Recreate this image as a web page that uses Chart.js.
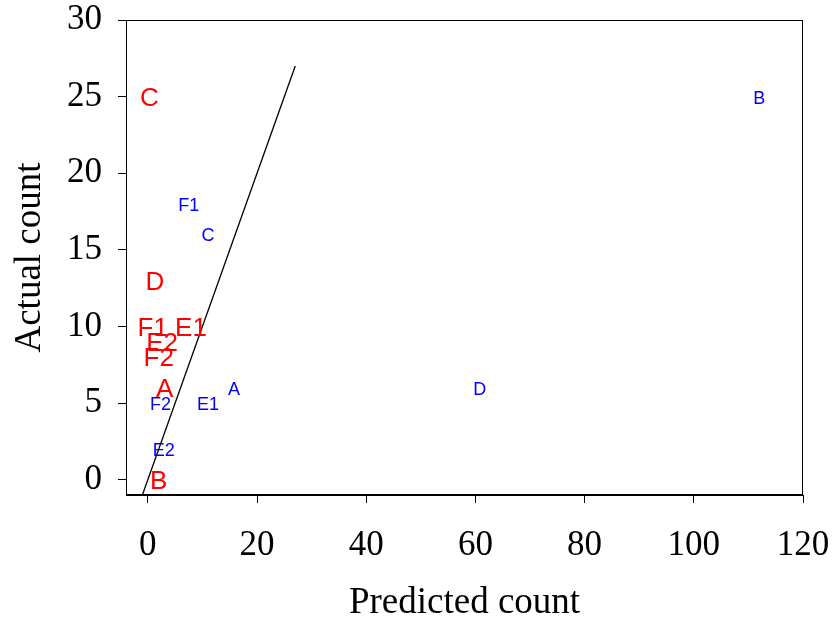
<!DOCTYPE html>
<html>
<head>
<meta charset="utf-8">
<script src="https://cdn.jsdelivr.net/npm/chart.js@4/dist/chart.umd.min.js"></script>
<style>
  html, body { margin: 0; padding: 0; background: #fff; }
  #wrap { width: 833px; height: 622px; }
</style>
</head>
<body>
<div id="wrap"><canvas id="countg"></canvas></div>
<script>
// red group: labels with predicted / actual counts
var redLabels = ['C', 'D', 'F1', 'E1', 'E2', 'F2', 'A', 'B'];
var redPredicted = [0.3, 1.3, 0.9, 7.9, 2.6, 2.0, 3.1, 2.0];
var redActual = [25, 13, 10, 10, 9, 8, 6, 0];

// blue group
var blueLabels = ['B', 'D', 'F1', 'C', 'A', 'F2', 'E1', 'E2'];
var bluePredicted = [112, 60.8, 7.5, 11, 15.8, 2.3, 11, 2.9];
var blueActual = [25, 6, 18, 16, 6, 5, 5, 2];

// 1:1 reference line
var lineX = [-1, 27];
var lineY = [-1, 27];

var xTicks = [0, 20, 40, 60, 80, 100, 120];
var yTicks = [0, 5, 10, 15, 20, 25, 30];

function pts(xs, ys) {
	return xs.map(function (x, i) { return { x: x, y: ys[i] }; });
}

// writes each point's label text at its position instead of a marker
var textPoints = {
	id: 'textPoints',
	afterDatasetsDraw: function (chart) {
		var ctx = chart.ctx;
		chart.data.datasets.forEach(function (ds, i) {
			if (!ds.pointText) return;
			var meta = chart.getDatasetMeta(i);
			ctx.save();
			ctx.fillStyle = ds.textColor;
			ctx.font = ds.textFont;
			ctx.textAlign = 'center';
			ctx.textBaseline = 'middle';
			meta.data.forEach(function (el, j) {
				// nudge down a bit so the capitals sit centred on the value
				ctx.fillText(ds.pointText[j], el.x, el.y + 2);
			});
			ctx.restore();
		});
	}
};

// closes the frame on the top and right
var frame = {
	id: 'frame',
	afterDraw: function (chart) {
		var a = chart.chartArea, ctx = chart.ctx;
		ctx.save();
		ctx.strokeStyle = '#000';
		ctx.lineWidth = 1;
		ctx.strokeRect(a.left + 0.5, a.top + 0.5, a.right - a.left - 1, a.bottom - a.top - 1);
		ctx.restore();
	}
};

var serif = '"Liberation Serif", "Times New Roman", serif';

var ctx = document.getElementById('countg').getContext('2d');
var chart = new Chart(ctx, {
	type: 'scatter',
	data: {
		datasets: [{
			type: 'line',
			data: pts(lineX, lineY),
			borderColor: '#000',
			borderWidth: 1.3,
			pointRadius: 0,
			fill: false
		}, {
			data: pts(redPredicted, redActual),
			pointText: redLabels,
			textColor: '#ff0000',
			textFont: '26px "Liberation Sans", Arial, sans-serif',
			pointRadius: 0
		}, {
			data: pts(bluePredicted, blueActual),
			pointText: blueLabels,
			textColor: '#0000ff',
			textFont: '18px "Liberation Sans", Arial, sans-serif',
			pointRadius: 0
		}]
	},
	options: {
		responsive: true,
		maintainAspectRatio: false,
		animation: false,
		layout: { padding: { top: 20, right: 30, left: 0, bottom: 0 } },
		plugins: { legend: { display: false }, tooltip: { enabled: false } },
		scales: {
			x: {
				type: 'linear',
				min: -4,
				max: 120,
				afterBuildTicks: function (s) { s.ticks = xTicks.map(function (v) { return { value: v }; }); },
				afterFit: function (s) { s.height = 127; s.paddingLeft = 0; s.paddingRight = 0; },
				grid: { display: true, drawOnChartArea: false, drawTicks: true, tickLength: 8, color: '#000' },
				border: { display: true, color: '#000' },
				ticks: { color: '#000', padding: 22, maxRotation: 0, font: { family: serif, size: 35 } },
				title: { display: true, text: 'Predicted count', color: '#000', padding: 0, font: { family: serif, size: 37, lineHeight: 1.0 } }
			},
			y: {
				type: 'linear',
				min: -1,
				max: 30,
				afterBuildTicks: function (s) { s.ticks = yTicks.map(function (v) { return { value: v }; }); },
				afterFit: function (s) { s.width = 126; s.paddingTop = 0; s.paddingBottom = 0; },
				grid: { display: true, drawOnChartArea: false, drawTicks: true, tickLength: 8, color: '#000' },
				border: { display: true, color: '#000' },
				ticks: { color: '#000', padding: 16, font: { family: serif, size: 35 } },
				title: { display: true, text: 'Actual count', color: '#000', padding: { top: 8, bottom: 0 }, font: { family: serif, size: 37 } }
			}
		}
	},
	plugins: [textPoints, frame]
});
</script>
</body>
</html>
